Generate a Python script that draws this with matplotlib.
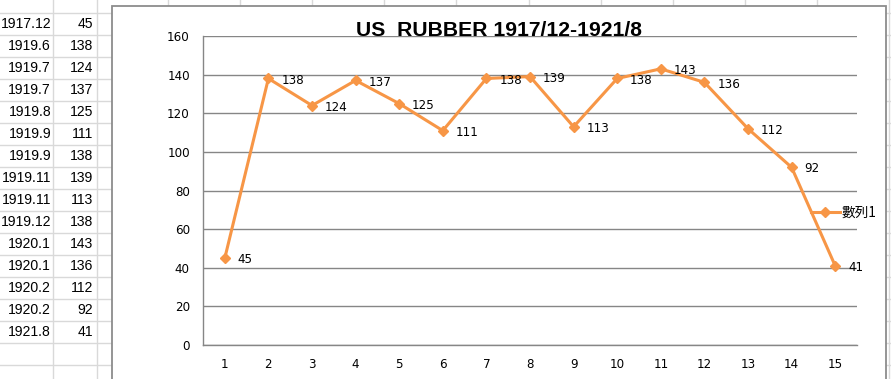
import matplotlib
matplotlib.use("Agg")
import matplotlib.pyplot as plt
from matplotlib.patches import Rectangle
from matplotlib.lines import Line2D

# ---- data ----
dates = ["1917.12", "1919.6", "1919.7", "1919.7", "1919.8", "1919.9", "1919.9",
         "1919.11", "1919.11", "1919.12", "1920.1", "1920.1", "1920.2", "1920.2", "1921.8"]
values = [45, 138, 124, 137, 125, 111, 138, 139, 113, 138, 143, 136, 112, 92, 41]
categories = list(range(1, 16))
yticks = [0, 20, 40, 60, 80, 100, 120, 140, 160]
title = "US  RUBBER 1917/12-1921/8"
series_name = "數列1"

W, H = 891, 379
orange = "#F79646"
gridc = "#868686"
cellc = "#D9D9D9"

fig = plt.figure(figsize=(W / 100, H / 100), dpi=100)
fig.patch.set_facecolor("white")

def fx(px):
    return px / W

def fy(py):
    return 1 - py / H

# spreadsheet grid lines (background)
row_lines = [13 + 22 * k for k in range(17)]
for y in row_lines:
    fig.add_artist(Line2D([0, 1], [fy(y), fy(y)], color=cellc, lw=1, zorder=-3,
                          transform=fig.transFigure))
col_lines = [53, 97] + [168 + 72.1 * k for k in range(11)]
for x in col_lines:
    fig.add_artist(Line2D([fx(x), fx(x)], [0, 1], color=cellc, lw=1, zorder=-3,
                          transform=fig.transFigure))

# spreadsheet text
for i, (d, v) in enumerate(zip(dates, values)):
    yc = fy(13 + 22 * i + 11)
    fig.text(fx(51), yc, d, ha="right", va="center", fontsize=10.1,
             family="Liberation Sans", color="black")
    fig.text(fx(93), yc, str(v), ha="right", va="center", fontsize=10.1,
             family="Liberation Sans", color="black")

# chart frame
fig.add_artist(Rectangle((fx(112), fy(390)), fx(886) - fx(112), fy(5.5) - fy(390),
                         transform=fig.transFigure, facecolor="white",
                         edgecolor="#8C8C8C", lw=1.3, zorder=-1))

# plot area
ax = fig.add_axes([fx(203), fy(345), fx(857) - fx(203), fy(36) - fy(345)])
ax.set_facecolor("none")
ax.set_xlim(0.5, 15.5)
ax.set_ylim(0, 160)
ax.set_yticks(yticks)
ax.set_xticks(categories)
ax.set_xticklabels([str(c) for c in categories])
ax.grid(axis="y", color=gridc, lw=1)
ax.set_axisbelow(True)
for s in ["top", "right"]:
    ax.spines[s].set_visible(False)
for s in ["left", "bottom"]:
    ax.spines[s].set_color(gridc)
    ax.spines[s].set_linewidth(1)
ax.tick_params(axis="y", length=0, pad=9.5, labelsize=8.6)
ax.tick_params(axis="x", length=0, pad=9, labelsize=8.6)

line, = ax.plot(categories, values, color=orange, lw=2.2, marker="D",
                markersize=5.5, markeredgecolor=orange, label=series_name,
                clip_on=False, zorder=3)

for c, v in zip(categories, values):
    ax.annotate(str(v), (c, v), xytext=(9.2, -1.2), textcoords="offset points",
                ha="left", va="center", fontsize=8.6, color="black")

leg = ax.legend(handles=[line], loc="center left",
                bbox_to_anchor=(fx(811), fy(213)), bbox_transform=fig.transFigure,
                frameon=False, borderpad=0, borderaxespad=0, handlelength=2.1,
                handletextpad=0.15, prop={"family": ["Noto Sans CJK TC", "DejaVu Sans"], "size": 9.8})

fig.text(fx(499), fy(30), title, ha="center", va="center", fontsize=15.2,
         fontweight="bold", family="Liberation Sans")

fig.savefig("out.png", dpi=100)
